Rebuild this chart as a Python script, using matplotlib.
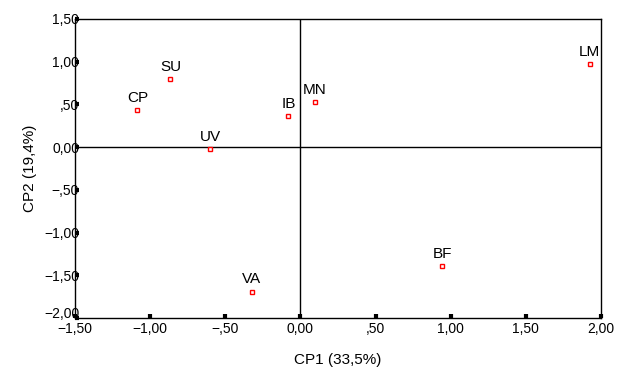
import matplotlib
matplotlib.use("Agg")
import matplotlib.pyplot as plt
import matplotlib.transforms as mtransforms

# scores on the first two principal components
labels = ["CP", "SU", "UV", "IB", "MN", "LM", "BF", "VA"]
cp1 = [-1.085, -0.865, -0.600, -0.080, 0.095, 1.925, 0.943, -0.324]
cp2 = [0.433, 0.796, -0.023, 0.363, 0.523, 0.970, -1.397, -1.690]

xticks = [-1.5, -1.0, -0.5, 0.0, 0.5, 1.0, 1.5, 2.0]
xticklabels = ["\u22121,50", "\u22121,00", "\u2212,50", "0,00", ",50", "1,00", "1,50", "2,00"]
yticks = [-2.0, -1.5, -1.0, -0.5, 0.0, 0.5, 1.0, 1.5]
yticklabels = ["\u22122,00", "\u22121,50", "\u22121,00", "\u2212,50", "0,00", ",50", "1,00", "1,50"]

plt.rcParams['font.family'] = ['Liberation Sans', 'DejaVu Sans']

fig = plt.figure(figsize=(6.21, 3.73), dpi=100)
ax = fig.add_axes([75 / 621, 55 / 373, 526 / 621, 299 / 373])

ax.axhline(0, color='black', lw=1, zorder=1)
ax.axvline(0, color='black', lw=1, zorder=1)

ax.plot(cp1, cp2, linestyle='none', marker='s', markersize=3.2,
        markerfacecolor='white', markeredgecolor='red', markeredgewidth=1, zorder=3)
for lab, x, y in zip(labels, cp1, cp2):
    ax.annotate(lab, (x, y), xytext=(0, 4), textcoords='offset points',
                ha='center', va='bottom', fontsize=11)

ax.set_xlim(-1.5, 2.0)
ax.set_ylim(-2.0, 1.5)
ax.set_xticks(xticks)
ax.set_xticklabels(xticklabels)
ax.set_yticks(yticks)
ax.set_yticklabels(yticklabels)
ax.tick_params(axis='both', direction='in', length=3, width=3, labelsize=10)
ax.tick_params(axis='y', pad=-3)
ax.tick_params(axis='x', pad=3)

# lowest y label sits a bit higher so it clears the x labels
lowest = ax.get_yticklabels()[0]
lowest.set_transform(lowest.get_transform() +
                     mtransforms.ScaledTranslation(0, 5 / 100, fig.dpi_scale_trans))

for s in ax.spines.values():
    s.set_linewidth(1)
    s.set_color('black')

ax.set_xlabel("CP1 (33,5%)", fontsize=11, labelpad=12)
ax.set_ylabel("CP2 (19,4%)", fontsize=11, labelpad=5)

fig.savefig("out.png", dpi=100)
